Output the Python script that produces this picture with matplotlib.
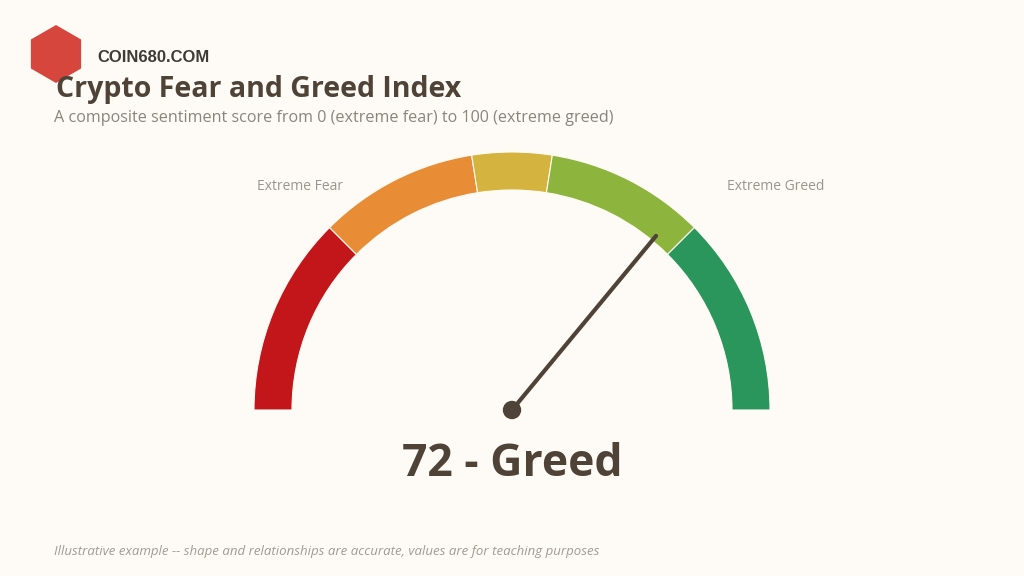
import matplotlib
matplotlib.use("Agg")
import matplotlib.pyplot as plt
from matplotlib.patches import Wedge, Circle, RegularPolygon
import numpy as np

# gauge data
bounds = [0, 25, 45, 55, 75, 100]
band_colors = ["#C2161A", "#E88D35", "#D4B43E", "#8DB53E", "#2A965B"]
score = 72
score_label = "Greed"

title = "Crypto Fear and Greed Index"
subtitle = "A composite sentiment score from 0 (extreme fear) to 100 (extreme greed)"
footer = "Illustrative example -- shape and relationships are accurate, values are for teaching purposes"

bg = "#FEFBF6"
dark = "#4F4338"

plt.rcParams['font.family'] = ['Open Sans', 'DejaVu Sans']

fig = plt.figure(figsize=(10.24, 5.76), dpi=100, facecolor=bg)
ax = fig.add_axes([0, 0, 1, 1])
ax.set_xlim(0, 1024)
ax.set_ylim(0, 576)
ax.set_aspect("equal")
ax.axis("off")
ax.set_facecolor(bg)

cx, cy = 512, 576 - 410
r_out, width = 258, 38


def val2ang(v):
    return 180 - v * 1.8


for lo, hi, c in zip(bounds[:-1], bounds[1:], band_colors):
    ax.add_patch(Wedge((cx, cy), r_out, val2ang(hi), val2ang(lo), width=width,
                       facecolor=c, edgecolor=bg, linewidth=0.8))

# needle
a = np.radians(val2ang(score))
ax.plot([cx, cx + 226 * np.cos(a)], [cy, cy + 226 * np.sin(a)],
        color=dark, lw=3, solid_capstyle="round", zorder=5)
ax.add_patch(Circle((cx, cy), 8.5, color=dark, zorder=6))

ax.text(cx, 576 - 464, f"{score} - {score_label}", ha="center", va="center",
        fontsize=32, fontweight="bold", color=dark)

ax.text(300, 576 - 186, "Extreme Fear", ha="center", va="center", fontsize=10, color="#9A948E")
ax.text(776, 576 - 186, "Extreme Greed", ha="center", va="center", fontsize=10, color="#9A948E")

# titles
ax.text(56, 576 - 89, title, ha="left", va="center", fontsize=20.5, fontweight="bold", color=dark)
ax.text(54, 576 - 118, subtitle, ha="left", va="center", fontsize=11.6, color="#8A847E")
ax.text(54, 576 - 551, footer, ha="left", va="center", fontsize=9.5, style="italic", color="#A09A94")

# logo
ax.add_patch(RegularPolygon((56, 576 - 54), 6, radius=29, orientation=0,
                            facecolor="#D6463D", edgecolor="none"))
ax.text(97, 576 - 58, "COIN680.COM", ha="left", va="center", fontsize=12,
        fontweight="bold", family=["Liberation Sans", "DejaVu Sans"], color="#3F3A36")

fig.savefig("out.png", dpi=100, facecolor=bg)
